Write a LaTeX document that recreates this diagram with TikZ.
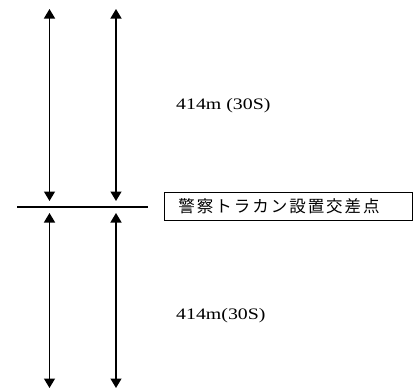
\documentclass[tikz,border=0pt]{standalone}
\usepackage{fontspec}
\usetikzlibrary{arrows.meta}
\newfontfamily\jpfont[LetterSpace=12]{Noto Sans CJK JP}
\newfontfamily\latfont[FakeStretch=1.24]{Liberation Serif}
\begin{document}
\begin{tikzpicture}[x=1pt,y=-1pt,
  dimarrow/.style={line width=1.3pt,{Triangle[width=11pt,length=9.5pt]}-{Triangle[width=11pt,length=9.5pt]}},
  roadline/.style={line width=2pt},
  distlabel/.style={anchor=base west,inner sep=0pt,font=\latfont\fontsize{16pt}{19pt}\selectfont},
  signbox/.style={draw,line width=0.8pt,anchor=west,minimum width=248pt,minimum height=28pt,
    text width=220pt,inner xsep=14pt,inner ysep=0pt,align=left,font=\jpfont\fontsize{16.5pt}{19pt}\selectfont}]
\useasboundingbox (0,0) rectangle (414,389);
% top arrows
\coordinate (t1a) at (49.5,9);
\coordinate (t1b) at (49.5,201);
\coordinate (t2a) at (116,9);
\coordinate (t2b) at (116,201);
% bottom arrows
\coordinate (b1a) at (49.5,213);
\coordinate (b1b) at (49.5,388);
\coordinate (b2a) at (116,213);
\coordinate (b2b) at (116,388);
% road line
\coordinate (r1) at (17,207);
\coordinate (r2) at (148,207);
\draw[dimarrow] (t1a) -- (t1b);
\draw[dimarrow] (t2a) -- (t2b);
\draw[dimarrow] (b1a) -- (b1b);
\draw[dimarrow] (b2a) -- (b2b);
\draw[roadline] (r1) -- (r2);
\node[signbox] (sign) at (164,206) {警察トラカン設置交差点};
\node[distlabel] (lab1) at (176,109) {414m (30S)};
\node[distlabel] (lab2) at (176,319) {414m(30S)};
\end{tikzpicture}
\end{document}
